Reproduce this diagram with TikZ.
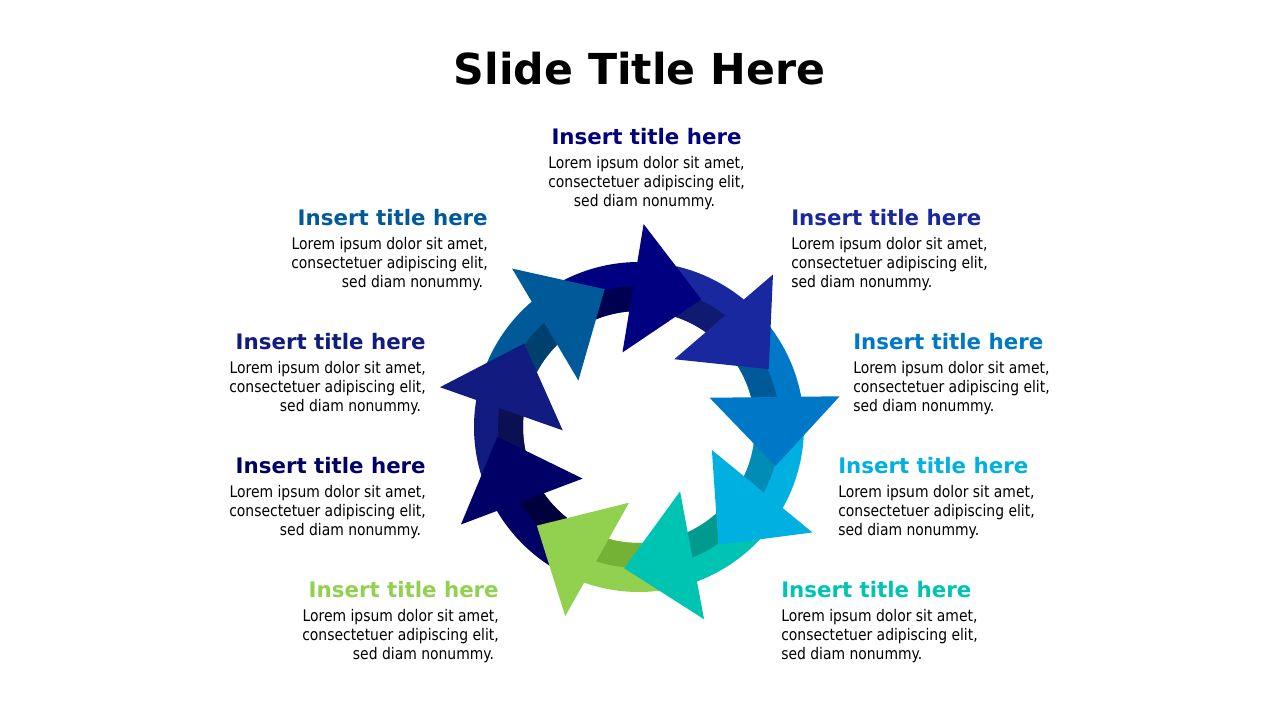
\documentclass[tikz,border=0pt]{standalone}
\usepackage{fontspec}
\setmainfont{DejaVu Sans}
\newfontfamily\loremfont[FakeStretch=0.87]{DejaVu Sans}
\usetikzlibrary{positioning}

\definecolor{arrSteel}{HTML}{005A9A}
\definecolor{arrNavy}{HTML}{000080}
\definecolor{arrBlue}{HTML}{1A28A0}
\definecolor{arrMid}{HTML}{0078C8}
\definecolor{arrCyan}{HTML}{00B0E0}
\definecolor{arrTeal}{HTML}{00C4B2}
\definecolor{arrGreen}{HTML}{92D050}
\definecolor{arrDark}{HTML}{000066}
\definecolor{arrIndigo}{HTML}{121C80}

\definecolor{shdSteel}{HTML}{00406E}
\definecolor{shdNavy}{HTML}{000052}
\definecolor{shdBlue}{HTML}{101A70}
\definecolor{shdMid}{HTML}{005A98}
\definecolor{shdCyan}{HTML}{008CB4}
\definecolor{shdTeal}{HTML}{009A8E}
\definecolor{shdGreen}{HTML}{74B236}
\definecolor{shdDark}{HTML}{00003C}
\definecolor{shdIndigo}{HTML}{0A1052}

\begin{document}
\begin{tikzpicture}[x=0.75pt,y=0.75pt,
  ttl/.style={inner sep=0pt,font=\bfseries\fontsize{16}{19}\selectfont},
  txt/.style={inner sep=0pt,font=\loremfont\fontsize{12}{14.25}\selectfont}]
  \useasboundingbox (0,0) rectangle (1280,720);
  \fill[white] (0,0) rectangle (1280,720);

  \node[anchor=base,inner sep=0pt,font=\bfseries\fontsize{32}{38}\selectfont] (slideTitle) at (639.5,635) {Slide Title Here};

  \coordinate (C) at (639,293); % centre of the ring

  % Draw arrow bodies with the shadow under the next head
  \foreach \ang/\col/\shd in {104/arrSteel/shdSteel,64/arrNavy/shdNavy,24/arrBlue/shdBlue,
      -16/arrMid/shdMid,-56/arrCyan/shdCyan,-96/arrTeal/shdTeal,-136/arrGreen/shdGreen,
      -176/arrDark/shdDark,144/arrIndigo/shdIndigo}{
    \begin{scope}[shift={(C)},rotate=\ang]
      \fill[\col] (20:165) arc[start angle=20,end angle=60,radius=165]
        -- (60:116) arc[start angle=60,end angle=20,radius=116] -- cycle;
      \fill[\shd] (28:141) arc[start angle=28,end angle=60,radius=141]
        -- (60:116) arc[start angle=60,end angle=28,radius=116] -- cycle;
    \end{scope}
  }

  % Draw arrow heads on top
  \foreach \ang/\col in {104/arrSteel,64/arrNavy,24/arrBlue,-16/arrMid,-56/arrCyan,
      -96/arrTeal,-136/arrGreen,-176/arrDark,144/arrIndigo}
    \fill[\col,shift={(C)},rotate=\ang] (0:142) -- (24.7:203) -- (38.5:76.4) -- cycle;

  % Top text
  \node[ttl,text=arrNavy,anchor=base] (ttlN) at (646.5,575) {Insert title here};
  \node[txt,align=center,below=8pt of ttlN] (txtN) {Lorem ipsum dolor sit amet,\\consectetuer adipiscing elit,\\sed diam nonummy.\hspace*{3pt}};

  % Right hand texts
  \node[ttl,text=arrBlue,anchor=base west] (ttlNE) at (791,494) {Insert title here};
  \node[txt,align=left,below=8pt of ttlNE.south west,anchor=north west] (txtNE) {Lorem ipsum dolor sit amet,\\consectetuer adipiscing elit,\\sed diam nonummy.};
  \node[ttl,text=arrMid,anchor=base west] (ttlE1) at (853,370) {Insert title here};
  \node[txt,align=left,below=8pt of ttlE1.south west,anchor=north west] (txtE1) {Lorem ipsum dolor sit amet,\\consectetuer adipiscing elit,\\sed diam nonummy.};
  \node[ttl,text=arrCyan,anchor=base west] (ttlE2) at (838,246) {Insert title here};
  \node[txt,align=left,below=8pt of ttlE2.south west,anchor=north west] (txtE2) {Lorem ipsum dolor sit amet,\\consectetuer adipiscing elit,\\sed diam nonummy.};
  \node[ttl,text=arrTeal,anchor=base west] (ttlSE) at (781,122) {Insert title here};
  \node[txt,align=left,below=8pt of ttlSE.south west,anchor=north west] (txtSE) {Lorem ipsum dolor sit amet,\\consectetuer adipiscing elit,\\sed diam nonummy.};

  % Left hand texts
  \node[ttl,text=arrSteel,anchor=base east] (ttlNW) at (488,494) {Insert title here};
  \node[txt,align=right,below=8pt of ttlNW.south east,anchor=north east] (txtNW) {Lorem ipsum dolor sit amet,\\consectetuer adipiscing elit,\\sed diam nonummy.\hspace*{3.5pt}};
  \node[ttl,text=arrIndigo,anchor=base east] (ttlW1) at (426,370) {Insert title here};
  \node[txt,align=right,below=8pt of ttlW1.south east,anchor=north east] (txtW1) {Lorem ipsum dolor sit amet,\\consectetuer adipiscing elit,\\sed diam nonummy.\hspace*{3.5pt}};
  \node[ttl,text=arrDark,anchor=base east] (ttlW2) at (426,246) {Insert title here};
  \node[txt,align=right,below=8pt of ttlW2.south east,anchor=north east] (txtW2) {Lorem ipsum dolor sit amet,\\consectetuer adipiscing elit,\\sed diam nonummy.\hspace*{3.5pt}};
  \node[ttl,text=arrGreen,anchor=base east] (ttlSW) at (499,122) {Insert title here};
  \node[txt,align=right,below=8pt of ttlSW.south east,anchor=north east] (txtSW) {Lorem ipsum dolor sit amet,\\consectetuer adipiscing elit,\\sed diam nonummy.\hspace*{3.5pt}};
\end{tikzpicture}
\end{document}
